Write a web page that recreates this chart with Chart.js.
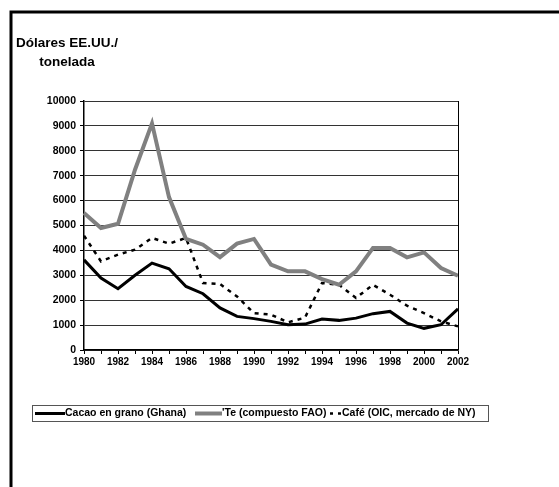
<!DOCTYPE html>
<html>
<head>
<meta charset="utf-8">
<script src="https://cdn.jsdelivr.net/npm/chart.js@4.4.0/dist/chart.umd.min.js"></script>
<style>
  html, body { margin: 0; padding: 0; background: #fff; }
  #wrap { width: 559px; height: 487px; position: relative; }
</style>
</head>
<body>
<div id="wrap"><canvas id="priceChart" width="559" height="487"></canvas></div>
<script>
const years = ['1980','1981','1982','1983','1984','1985','1986','1987','1988','1989','1990',
    '1991','1992','1993','1994','1995','1996','1997','1998','1999','2000','2001','2002'];

const cacao = [3620, 2890, 2460, 3000, 3490, 3260, 2550, 2260, 1690, 1350, 1260,
    1150, 1015, 1040, 1240, 1190, 1280, 1460, 1550, 1080, 870, 1015, 1650];
const te = [5500, 4900, 5070, 7240, 9100, 6140, 4460, 4230, 3730, 4270, 4460,
    3430, 3160, 3160, 2850, 2620, 3160, 4100, 4100, 3720, 3920, 3290, 2980];
const cafe = [4590, 3560, 3830, 4030, 4500, 4270, 4500, 2690, 2650, 2150, 1480,
    1420, 1110, 1300, 2690, 2620, 2090, 2620, 2220, 1780, 1480, 1150, 950];

const seriesLabels = ['Cacao en grano (Ghana)', "'Te (compuesto FAO)", 'Café (OIC, mercado de NY)'];
const titleLines = ['Dólares EE.UU./', 'tonelada'];

const FONT = '"Liberation Sans", Arial, sans-serif';

// legend sample start / text start
const legendSampleX = [35, 195, 330];
const legendTextX = [65, 222, 342];

// frame, title, right border of plot, legend
const decorations = {
    id: 'decorations',
    beforeDraw(chart) {
        const ctx = chart.ctx;
        ctx.save();
        ctx.fillStyle = '#fff';
        ctx.fillRect(0, 0, chart.width, chart.height);
        ctx.strokeStyle = '#000';
        ctx.lineWidth = 3;
        ctx.beginPath();
        ctx.moveTo(11, 487);
        ctx.lineTo(11, 12);
        ctx.lineTo(559, 12);
        ctx.stroke();

        ctx.fillStyle = '#000';
        ctx.font = 'bold 13.5px ' + FONT;
        ctx.textAlign = 'center';
        ctx.textBaseline = 'middle';
        ctx.fillText(titleLines[0], 67, 43);
        ctx.fillText(titleLines[1], 67, 62);
        ctx.restore();
    },
    afterDraw(chart) {
        const ctx = chart.ctx;
        const a = chart.chartArea;
        ctx.save();
        ctx.strokeStyle = '#000';
        ctx.lineWidth = 1;
        ctx.beginPath();
        ctx.moveTo(a.right + 0.5, a.top);
        ctx.lineTo(a.right + 0.5, a.bottom);
        ctx.stroke();

        // legend
        const top = 405, h = 16, cy = top + h / 2 + 0.5;
        ctx.strokeStyle = '#555';
        ctx.lineWidth = 1;
        ctx.strokeRect(32.5, top + 0.5, 456, h);
        ctx.font = 'bold 10.5px ' + FONT;
        ctx.textBaseline = 'middle';
        ctx.textAlign = 'left';
        ctx.fillStyle = '#000';
        chart.data.datasets.forEach((ds, i) => {
            const sx = legendSampleX[i], tx = legendTextX[i];
            ctx.save();
            ctx.strokeStyle = ds.borderColor;
            ctx.lineWidth = ds.borderWidth;
            if (ds.borderDash) ctx.setLineDash([3, 5]);
            ctx.beginPath();
            ctx.moveTo(sx, cy);
            ctx.lineTo(tx, cy);
            ctx.stroke();
            ctx.restore();
            ctx.fillText(ds.label, tx, cy);
        });
        ctx.restore();
    }
};

new Chart(document.getElementById('priceChart'), {
    type: 'line',
    data: {
        labels: years,
        datasets: [
            { label: seriesLabels[0], data: cacao, borderColor: '#000', borderWidth: 3 },
            { label: seriesLabels[1], data: te, borderColor: '#808080', borderWidth: 4 },
            { label: seriesLabels[2], data: cafe, borderColor: '#000', borderWidth: 2.5, borderDash: [4, 5] }
        ]
    },
    options: {
        responsive: false,
        animation: false,
        devicePixelRatio: 1,
        layout: { padding: { left: 0, top: 101, right: 101, bottom: 117 } },
        elements: {
            point: { radius: 0 },
            line: { tension: 0, fill: false, borderCapStyle: 'butt' }
        },
        scales: {
            x: {
                offset: false,
                afterFit(scale) { scale.height = 20; },
                grid: { drawOnChartArea: false, drawTicks: true, tickLength: 4, color: '#000' },
                border: { color: '#000', width: 1.5 },
                ticks: {
                    autoSkip: false,
                    maxRotation: 0,
                    padding: 2,
                    color: '#000',
                    font: { family: FONT, size: 10, weight: 'bold' },
                    callback(value, index) { return index % 2 === 0 ? this.getLabelForValue(value) : ''; }
                }
            },
            y: {
                min: 0,
                max: 10000,
                afterFit(scale) { scale.width = 84; },
                grid: { color: '#333', lineWidth: 1, tickLength: 4, tickColor: '#000' },
                border: { color: '#000', width: 1.5 },
                ticks: {
                    stepSize: 1000,
                    padding: 4,
                    color: '#000',
                    font: { family: FONT, size: 10.5, weight: 'bold' },
                    callback: value => String(value)
                }
            }
        },
        plugins: {
            legend: { display: false },
            tooltip: { enabled: false }
        }
    },
    plugins: [decorations]
});
</script>
</body>
</html>
